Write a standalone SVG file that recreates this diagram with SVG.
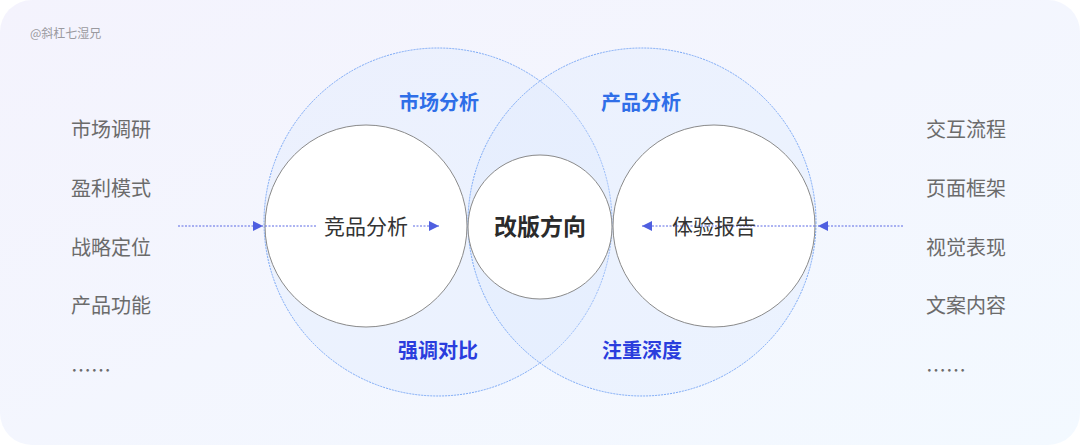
<svg xmlns="http://www.w3.org/2000/svg" width="1080" height="445" viewBox="0 0 1080 445">
<defs>
<linearGradient id="bg" x1="0" y1="0" x2="1" y2="1">
<stop offset="0" stop-color="#f4f3fd"/>
<stop offset="1" stop-color="#f3f9ff"/>
</linearGradient>
<marker id="ah" viewBox="0 0 10 10" refX="10" refY="5" markerWidth="10" markerHeight="10" markerUnits="userSpaceOnUse" orient="auto">
<path d="M0,0 L10,5 L0,10 Z" fill="#4f5fe0"/>
</marker>
<style>
.big{fill:#dbe8ff;fill-opacity:0.3;stroke:#7aa8f6;stroke-width:1;stroke-dasharray:2 1}
.white{fill:#ffffff;stroke:#8a8a8a;stroke-width:1}
.conn{stroke:#5b68e4;stroke-width:1;stroke-dasharray:2 1.5;fill:none}
.list{font-family:"Noto Sans CJK SC","Noto Sans",sans-serif;font-size:20px;fill:#6b6b6b}
.node{font-family:"Noto Sans CJK SC","Noto Sans",sans-serif;font-size:21px;fill:#333333;text-anchor:middle}
.center{font-family:"Noto Sans CJK SC","Noto Sans",sans-serif;font-size:23px;font-weight:bold;fill:#2b2b2b;text-anchor:middle}
.top{font-family:"Noto Sans CJK SC","Noto Sans",sans-serif;font-size:20px;font-weight:bold;fill:#2f6ee8;text-anchor:middle}
.bot{font-family:"Noto Sans CJK SC","Noto Sans",sans-serif;font-size:20px;font-weight:bold;fill:#2a3ddd;text-anchor:middle}
</style>
</defs>
<rect x="0" y="0" width="1080" height="445" fill="#ffffff"/>
<rect x="0" y="0" width="1080" height="445" rx="32" fill="url(#bg)"/>
<text x="30" y="38" font-family="'Noto Sans CJK SC',sans-serif" font-size="12" fill="#9a9aa0">@斜杠七湿兄</text>

<g id="market-circle"><circle class="big" cx="438" cy="222" r="174"/></g>
<g id="product-circle"><circle class="big" cx="642" cy="222" r="174"/></g>

<g id="label-market"><text class="top" x="439" y="110">市场分析</text></g>
<g id="label-product"><text class="top" x="641" y="110">产品分析</text></g>
<g id="label-contrast"><text class="bot" x="438" y="358">强调对比</text></g>
<g id="label-depth"><text class="bot" x="642" y="358">注重深度</text></g>

<g id="competitor"><circle class="white" cx="366" cy="226" r="101"/><text class="node" x="366" y="234">竞品分析</text></g>
<g id="report"><circle class="white" cx="714" cy="226" r="101"/></g>
<g id="direction"><circle class="white" cx="540" cy="227" r="72"/><text class="center" x="540" y="235">改版方向</text></g>

<g id="connectors">
<line class="conn" x1="178" y1="226" x2="263" y2="226" marker-end="url(#ah)"/>
<line class="conn" x1="265" y1="226" x2="317" y2="226"/>
<line class="conn" x1="413" y1="226" x2="439" y2="226" marker-end="url(#ah)"/>
<line class="conn" x1="903" y1="226" x2="818" y2="226" marker-end="url(#ah)"/>
<line class="conn" x1="815" y1="226" x2="642" y2="226" marker-end="url(#ah)"/>
</g>
<g id="report-label"><text class="node" x="714" y="234">体验报告</text></g>

<g id="left-list">
<text class="list" x="71" y="137">市场调研</text>
<text class="list" x="71" y="196">盈利模式</text>
<text class="list" x="71" y="255">战略定位</text>
<text class="list" x="71" y="313">产品功能</text>
<text class="list" x="71" y="378">……</text>
</g>
<g id="right-list">
<text class="list" x="926" y="137">交互流程</text>
<text class="list" x="926" y="196">页面框架</text>
<text class="list" x="926" y="255">视觉表现</text>
<text class="list" x="926" y="313">文案内容</text>
<text class="list" x="926" y="378">……</text>
</g>
</svg>
